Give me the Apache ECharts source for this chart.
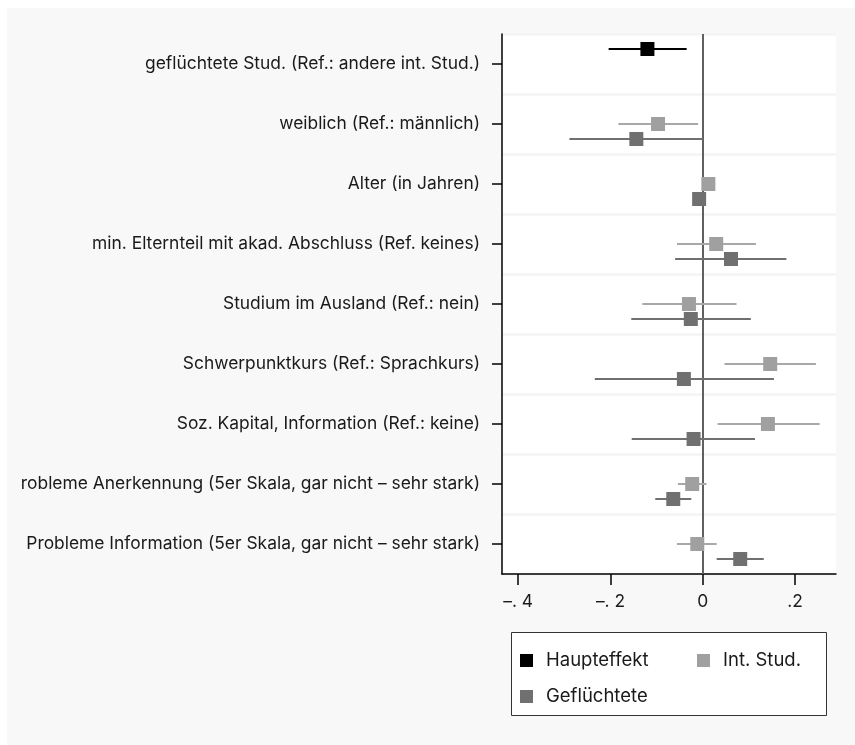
<!DOCTYPE html>
<html>
<head>
<meta charset="utf-8">
<script src="https://cdn.jsdelivr.net/npm/echarts@6/dist/echarts.min.js"></script>
<style>
  html, body { margin: 0; padding: 0; background: #ffffff; }
  #bg { position: absolute; left: 7px; top: 8px; width: 848px; height: 737px; background: #f8f8f8; }
  #chart { position: absolute; left: 0; top: 0; width: 855px; height: 745px; }
</style>
</head>
<body>
<div id="bg"></div>
<div id="chart"></div>
<script>
// ---- data ----
const categories = [
  'geflüchtete Stud. (Ref.: andere int. Stud.)',
  'weiblich (Ref.: männlich)',
  'Alter (in Jahren)',
  'min. Elternteil mit akad. Abschluss (Ref. keines)',
  'Studium im Ausland (Ref.: nein)',
  'Schwerpunktkurs (Ref.: Sprachkurs)',
  'Soz. Kapital, Information (Ref.: keine)',
  'robleme Anerkennung (5er Skala, gar nicht – sehr stark)',
  'Probleme Information (5er Skala, gar nicht – sehr stark)'
];
const xTickValues = [-0.4, -0.2, 0, 0.2];
const xTickLabels = ['–. 4', '–. 2', '0', '.2'];

const hauptCoef = [-0.120, null, null, null, null, null, null, null, null];
const hauptLo   = [-0.204, null, null, null, null, null, null, null, null];
const hauptHi   = [-0.035, null, null, null, null, null, null, null, null];

const intCoef = [null, -0.097, 0.012, 0.029, -0.030, 0.146, 0.141, -0.023, -0.012];
const intLo   = [null, -0.183, 0.002, -0.056, -0.131, 0.047, 0.032, -0.054, -0.056];
const intHi   = [null, -0.010, 0.021, 0.115, 0.073, 0.245, 0.253, 0.008, 0.030];

const gefCoef = [null, -0.144, -0.008, 0.061, -0.026, -0.041, -0.020, -0.064, 0.081];
const gefLo   = [null, -0.289, -0.017, -0.060, -0.155, -0.234, -0.154, -0.103, 0.030];
const gefHi   = [null, 0.000, 0.001, 0.181, 0.104, 0.154, 0.113, -0.025, 0.132];

const seriesNames = ['Haupteffekt', 'Int. Stud.', 'Geflüchtete'];
const rowOffsets = [-0.25, 0, 0.25];

// ---- build ----
const FONT = 'Inter, "Noto Sans", sans-serif';
const markerColors = ['#000000', '#a0a0a0', '#707070'];
const lineColors = ['#000000', '#a8a8a8', '#707070'];

function pts(coef, off) {
  const out = [];
  coef.forEach((v, i) => { if (v != null) out.push([v, i + 0.5 + off]); });
  return out;
}
function bars(lo, hi, off) {
  const out = [];
  lo.forEach((v, i) => { if (v != null) out.push([v, hi[i], i + 0.5 + off]); });
  return out;
}
function ciSeries(name, data, color) {
  return {
    name: name, type: 'custom', xAxisIndex: 0, yAxisIndex: 1, z: 3,
    encode: { x: [0, 1], y: 2 },
    data: data, silent: true,
    renderItem: function (params, api) {
      const p1 = api.coord([api.value(0), api.value(2)]);
      const p2 = api.coord([api.value(1), api.value(2)]);
      return { type: 'line', shape: { x1: p1[0], y1: p1[1], x2: p2[0], y2: p2[1] },
               style: { stroke: color, lineWidth: 2 } };
    }
  };
}
function ptSeries(name, data, color, extra) {
  return Object.assign({
    name: name, type: 'scatter', xAxisIndex: 0, yAxisIndex: 1, z: 5,
    symbol: 'rect', symbolSize: 14, itemStyle: { color: color, opacity: 1 },
    data: data, silent: true
  }, extra || {});
}

const coefs = [hauptCoef, intCoef, gefCoef];
const los = [hauptLo, intLo, gefLo];
const his = [hauptHi, intHi, gefHi];
const series = [];
for (let s = 0; s < 3; s++) {
  series.push(ciSeries(seriesNames[s] + ' KI', bars(los[s], his[s], rowOffsets[s]), lineColors[s]));
}
for (let s = 0; s < 3; s++) {
  const extra = s === 0 ? {
    markLine: { silent: true, symbol: 'none', z: 2, label: { show: false },
      lineStyle: { color: '#606060', width: 2, type: 'solid' },
      data: [{ xAxis: 0 }] }
  } : {};
  series.push(ptSeries(seriesNames[s], pts(coefs[s], rowOffsets[s]), markerColors[s], extra));
}

function legendAt(name, left, top) {
  return {
    data: [{ name: name, icon: 'rect' }], left: left, top: top, padding: 0,
    itemWidth: 13, itemHeight: 13, selectedMode: false, z: 10,
    textStyle: { fontFamily: FONT, fontSize: 18.5, color: '#1a1a1a', padding: [0, 0, 0, 8] }
  };
}

const chart = echarts.init(document.getElementById('chart'), null, { renderer: 'canvas' });
chart.setOption({
  backgroundColor: 'transparent',
  animation: false,
  grid: { left: 502, right: 19, top: 34, bottom: 171, show: true,
          backgroundColor: '#ffffff', borderWidth: 0 },
  xAxis: {
    type: 'value', min: -0.435, max: 0.2885,
    axisLine: { show: true, onZero: false, lineStyle: { color: '#000', width: 1.5 } },
    axisTick: { show: true, length: 11, customValues: xTickValues, lineStyle: { color: '#000', width: 1.5 } },
    axisLabel: { customValues: xTickValues, margin: 19, fontFamily: FONT, fontSize: 17.4, color: '#1a1a1a',
      formatter: function (v) { const i = xTickValues.findIndex(t => Math.abs(t - v) < 1e-9); return i >= 0 ? xTickLabels[i] : ''; } },
    splitLine: { show: false }
  },
  yAxis: [{
    type: 'category', data: categories, inverse: true, boundaryGap: true,
    axisLine: { show: true, onZero: false, lineStyle: { color: '#000', width: 1.5 } },
    axisTick: { show: true, alignWithLabel: true, length: 10, lineStyle: { color: '#000', width: 1.5 } },
    axisLabel: { margin: 22, fontFamily: FONT, fontSize: 17.4, color: '#1a1a1a' },
    splitLine: { show: true, lineStyle: { color: '#f4f4f4', width: 2.5 } }
  }, {
    type: 'value', min: 0, max: 9, inverse: true, show: false
  }],
  graphic: [{
    type: 'rect', left: 511, top: 632, z: 1,
    shape: { width: 315, height: 83 },
    style: { fill: '#ffffff', stroke: '#333333', lineWidth: 1 }
  }],
  legend: [
    legendAt('Haupteffekt', 520, 651),
    legendAt('Int. Stud.', 697, 651),
    legendAt('Geflüchtete', 520, 687)
  ],
  series: series
});
</script>
</body>
</html>
